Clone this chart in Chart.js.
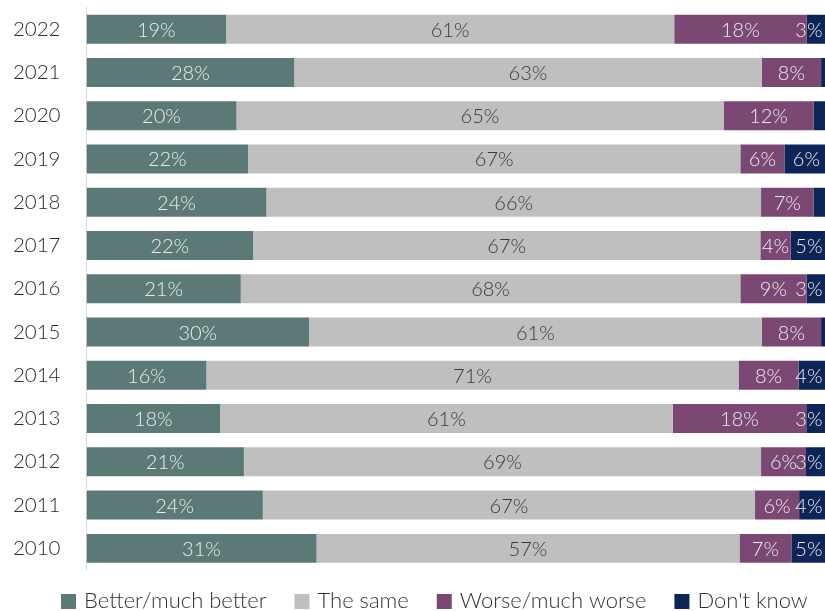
<!DOCTYPE html>
<html>
<head>
<meta charset="utf-8">
<script src="https://cdn.jsdelivr.net/npm/chart.js@4/dist/chart.umd.min.js"></script>
<style>
  html, body { margin: 0; padding: 0; background: #fff; overflow: hidden; }
  #wrap { width: 830px; height: 611px; }
</style>
</head>
<body>
<div id="wrap"><canvas id="c" width="830" height="611"></canvas></div>
<script>
// Survey answers per year (percent of respondents)
const years    = ['2022', '2021', '2020', '2019', '2018', '2017', '2016', '2015', '2014', '2013', '2012', '2011', '2010'];
const better   = [19, 28, 20, 22, 24, 22, 21, 30, 16, 18, 21, 24, 31];
const same     = [61, 63, 65, 67, 66, 67, 68, 61, 71, 61, 69, 67, 57];
const worse    = [18,  8, 12,  6,  7,  4,  9,  8,  8, 18,  6,  6,  7];
const dontKnow = [ 3,  1,  2,  6,  2,  5,  3,  1,  4,  3,  3,  4,  5];

const seriesNames = ['Better/much better', 'The same', 'Worse/much worse', "Don't know"];
const seriesValues = [better, same, worse, dontKnow];
const seriesColors = ['#5b7976', '#bfbfbf', '#7b4874', '#0c2456'];
const labelColors  = ['#ececec', '#3a3a3a', '#ececec', '#ececec'];

const FONT = 'Lato, "Source Sans Pro", "Open Sans", sans-serif';

// each row is shown as a 100% bar: shares of the row total
const totals = years.map((_, i) => seriesValues.reduce((s, arr) => s + arr[i], 0));
const shares = seriesValues.map(arr => arr.map((v, i) => v / totals[i] * 100));

// value labels centred in each segment, kept inside the right edge
const segmentLabels = {
  id: 'segmentLabels',
  afterDatasetsDraw(chart) {
    const ctx = chart.ctx;
    const rightLimit = 822.5;
    ctx.save();
    ctx.font = '300 20px ' + FONT;
    ctx.textAlign = 'center';
    ctx.textBaseline = 'middle';
    chart.data.datasets.forEach((ds, di) => {
      const meta = chart.getDatasetMeta(di);
      meta.data.forEach((bar, i) => {
        const v = ds.rawValues[i];
        if (v < 3) return;
        const txt = v + '%';
        const w = ctx.measureText(txt).width;
        let x = (bar.base + bar.x) / 2;
        x = Math.min(x, rightLimit - w / 2);
        ctx.fillStyle = ds.labelColor;
        ctx.fillText(txt, x, bar.y + 1);
      });
    });
    ctx.restore();
  }
};

// legend row along the bottom
const bottomLegend = {
  id: 'bottomLegend',
  afterDraw(chart) {
    const ctx = chart.ctx;
    const box = 15, gapText = 8, gapItem = 28;
    const y = 601.5;
    let x = 61;
    ctx.save();
    ctx.font = '300 22px ' + FONT;
    ctx.textBaseline = 'middle';
    ctx.textAlign = 'left';
    chart.data.datasets.forEach(ds => {
      ctx.fillStyle = ds.backgroundColor;
      ctx.fillRect(x, y - box / 2, box, box);
      x += box + gapText;
      ctx.fillStyle = '#333';
      ctx.fillText(ds.label, x, y - 1);
      x += ctx.measureText(ds.label).width + gapItem;
    });
    ctx.restore();
  }
};

new Chart(document.getElementById('c'), {
  type: 'bar',
  data: {
    labels: years,
    datasets: seriesNames.map((name, s) => ({
      label: name,
      data: shares[s],
      rawValues: seriesValues[s],
      backgroundColor: seriesColors[s],
      labelColor: labelColors[s],
      borderWidth: 0,
      barPercentage: 0.67,
      categoryPercentage: 1
    }))
  },
  options: {
    indexAxis: 'y',
    responsive: false,
    animation: false,
    devicePixelRatio: 1,
    layout: { padding: { top: 7.6, left: 0, right: 1.5, bottom: 41 } },
    plugins: {
      legend: { display: false },
      tooltip: { enabled: false }
    },
    scales: {
      x: { stacked: true, min: 0, max: 100, display: false },
      y: {
        stacked: true,
        afterFit(scale) {
          scale.width = 86.5;
          scale.paddingTop = 0;
          scale.paddingBottom = 0;
        },
        grid: { display: false, drawTicks: false },
        border: { display: true, color: '#d9d9d9', width: 1 },
        ticks: { color: '#2a2a2a', padding: 26, font: { family: FONT, size: 20.5, weight: '300' } }
      }
    }
  },
  plugins: [segmentLabels, bottomLegend]
});
</script>
</body>
</html>
